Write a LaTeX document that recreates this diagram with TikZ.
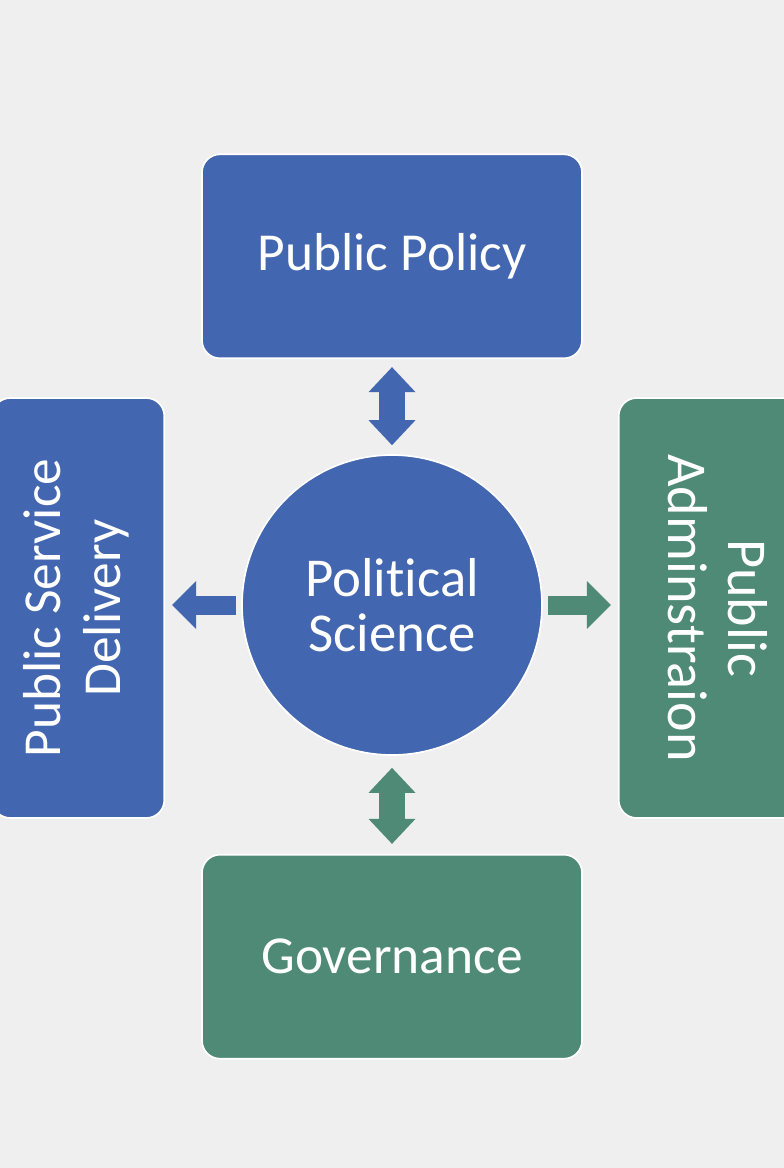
\documentclass[tikz,border=0pt]{standalone}
\usepackage{fontspec}
\setmainfont{Carlito}[Ligatures=NoCommon]
\usepackage{graphicx}
\usepackage{tikz}
\usetikzlibrary{arrows.meta, positioning}
\definecolor{polblue}{RGB}{67,102,176}
\definecolor{polgreen}{RGB}{78,138,117}
\definecolor{bggray}{RGB}{239,239,239}

\begin{document}
\begin{tikzpicture}[
    box/.style={draw=white, line width=1.2pt, rounded corners=0.45cm, minimum width=9.5cm, minimum height=5.1cm, align=center, text=white, font=\fontsize{38}{43}\selectfont},
    sidebox/.style={box, minimum width=4.3cm, minimum height=10.5cm},
    hub/.style={circle, draw=white, line width=1.2pt, fill=polblue, minimum size=7.5cm, inner sep=0pt, align=center, text=white, font=\fontsize{39}{39}\selectfont},
    dblarr/.style={line width=0.65cm, {Triangle[length=0.625cm, width=1.175cm, line width=0pt]}-{Triangle[length=0.625cm, width=1.175cm, line width=0pt]}},
    sidearr/.style={line width=0.475cm, -{Triangle[length=0.6cm, width=1.2cm, line width=0pt]}}
]
\fill[bggray] (0,0) rectangle (19.6,-29.2);
\useasboundingbox (0,0) rectangle (19.6,-29.2);
\clip (0,0) rectangle (19.6,-29.2);
\node[hub] (polsci) at (9.8,-15.125) {Political\\Science};
\node[box, fill=polblue, above=2.375cm of polsci] (policy) {Public Policy};
\node[box, fill=polgreen, below=2.45cm of polsci] (gov) {Governance};
\node[sidebox, fill=polblue, left=1.9cm of polsci, yshift=-0.075cm] (psd)
      {\rotatebox{90}{\begin{tabular}{@{}c@{}}Public Service\\Delivery\end{tabular}}};
\node[sidebox, fill=polgreen, minimum width=4.6cm, right=1.875cm of polsci, yshift=-0.075cm,
      font=\fontsize{40}{43}\selectfont] (padmin)
      {\rotatebox{-90}{\begin{tabular}{@{}c@{}}Public\\Adminstraion\end{tabular}}};
\draw[dblarr, polblue, shorten <=0.2cm, shorten >=0.225cm] (policy.south) -- (polsci.north);
\draw[dblarr, polgreen, shorten <=0.3cm, shorten >=0.25cm] (polsci.south) -- (gov.north);
\draw[sidearr, polblue, shorten <=0.125cm, shorten >=0.175cm] (polsci.west) -- (polsci.west -| psd.east);
\draw[sidearr, polgreen, shorten <=0.125cm, shorten >=0.175cm] (polsci.east) -- (polsci.east -| padmin.west);
\end{tikzpicture}
\end{document}
